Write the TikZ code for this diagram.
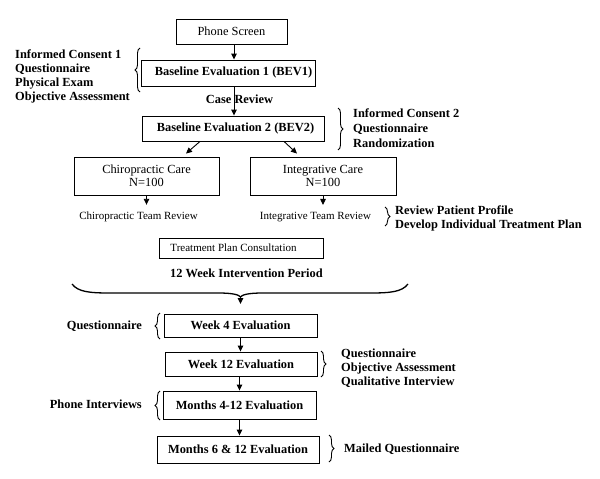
\documentclass[tikz,border=0pt]{standalone}
\usepackage{fontspec}
\setmainfont{Liberation Serif}
\usetikzlibrary{arrows.meta,decorations.pathreplacing}
\begin{document}
\begin{tikzpicture}[x=1pt,y=-1pt,
  box/.style={draw, line width=0.9pt, inner sep=0pt, align=center, font=\fontsize{12.4}{13}\selectfont},
  bbox/.style={box, font=\fontsize{12.4}{13}\selectfont\bfseries},
  lbl/.style={inner sep=0pt, align=left, font=\fontsize{12.4}{14.3}\selectfont\bfseries},
  small/.style={inner xsep=0pt, inner ysep=7pt, font=\fontsize{11}{13}\selectfont},
  arr/.style={line width=0.9pt, -{Triangle[length=6pt,width=5.5pt]}},
  brc/.style={decorate, decoration={brace, amplitude=5pt}, line width=0.9pt},
  bigbrace/.style={line width=1.3pt},
]
\useasboundingbox (0,0) rectangle (600,479);

% boxes
\node[box, minimum width=111pt, minimum height=25pt] (phone) at (231.5,31.5) {Phone Screen};
\node[bbox, minimum width=174pt, minimum height=26pt] (bev1) at (228,73) {\hspace{11pt}Baseline Evaluation 1 (BEV1)};
\node[bbox, minimum width=182pt, minimum height=25pt] (bev2) at (233,128.5) {\hspace{5pt}Baseline Evaluation 2 (BEV2)};
\node[box, minimum width=145pt, minimum height=38pt] (chiro) at (146.5,176) {Chiropractic Care\\N=100};
\node[box, minimum width=146pt, minimum height=38pt] (integ) at (323,176) {Integrative Care\\N=100};
\node[small] (chiroteam) at (138.5,217) {Chiropractic Team Review};
\node[small] (integteam) at (315.5,217) {Integrative Team Review};
\node[box, minimum width=164pt, minimum height=20pt, font=\fontsize{11}{13}\selectfont] (tpc) at (241,248) {Treatment Plan Consultation\hspace{15pt}};
\node[lbl] (period) at (246.5,273) {12 Week Intervention Period};
\node[bbox, minimum width=153pt, minimum height=23pt] (week4) at (240.5,325.5) {Week 4 Evaluation};
\node[bbox, minimum width=152pt, minimum height=24pt] (week12) at (241,364) {Week 12 Evaluation};
\node[bbox, minimum width=153pt, minimum height=28pt] (m412) at (239.5,405) {Months 4-12 Evaluation};
\node[bbox, minimum width=162pt, minimum height=27pt] (m612) at (238,449.5) {Months 6 \& 12 Evaluation};

% side labels
\node[lbl, anchor=west, font=\fontsize{12.4}{14.3}\selectfont\bfseries] (l1) at (15,76.5) {Informed Consent 1\\Questionnaire\\Physical Exam\\Objective Assessment};
\node[lbl] (case) at (239.5,99) {Case Review};
\node[lbl, anchor=west, font=\fontsize{12.4}{15}\selectfont\bfseries] (l2) at (353,128) {Informed Consent 2\\Questionnaire\\Randomization};
\node[lbl, anchor=west, font=\fontsize{12.4}{14}\selectfont\bfseries] (l3) at (395,218) {Review Patient Profile\\Develop Individual Treatment Plan};
\node[lbl, anchor=east] (l4) at (142,326) {Questionnaire};
\node[lbl, anchor=west, font=\fontsize{12.4}{14}\selectfont\bfseries] (l5) at (341,368) {Questionnaire\\Objective Assessment\\Qualitative Interview};
\node[lbl, anchor=east] (l6) at (142,404) {Phone Interviews};
\node[lbl, anchor=west] (l7) at (344,449) {Mailed Questionnaire};

% braces
\draw[brc] (140,92) -- (140,48);
\draw[brc] (338,108) -- (338,150);
\draw[brc] (385,207) -- (385,226);
\draw[brc] (160,339) -- (160,313);
\draw[brc] (321,351) -- (321,377);
\draw[brc] (160,420) -- (160,391);
\draw[brc] (329,435) -- (329,462);

% big brace
\coordinate (bracetip) at (240.5,297);
\draw[bigbrace] (72,284) .. controls (78,292) and (90,293) .. (110,293) -- (218,293) .. controls (234,293) and (239,295) .. (bracetip);
\draw[bigbrace] (408,284) .. controls (402,292) and (390,293) .. (370,293) -- (263,293) .. controls (247,293) and (242,295) .. (bracetip);
\draw[arr, line width=1.3pt] (bracetip) -- ([yshift=-7pt]bracetip);

% connectors
\draw[arr] ([xshift=2.5pt]phone.south) -- ([xshift=6pt]bev1.north);
\draw[arr] ([xshift=6pt]bev1.south) -- ([xshift=1pt]bev2.north);
\draw[arr] ([xshift=-33pt]bev2.south) -- ([xshift=39.5pt,yshift=3pt]chiro.north);
\draw[arr] ([xshift=51pt]bev2.south) -- ([xshift=-26pt,yshift=3pt]integ.north);
\draw[arr] (chiro.south) -- (chiro.south |- chiroteam.north);
\draw[arr] (integ.south) -- (integ.south |- integteam.north);
\draw[arr] (week4.south) -- (week12.north -| week4.south);
\draw[arr] (m412.north |- week12.south) -- (m412.north);
\draw[arr] (m412.south) -- (m612.north -| m412.south);
\end{tikzpicture}
\end{document}
